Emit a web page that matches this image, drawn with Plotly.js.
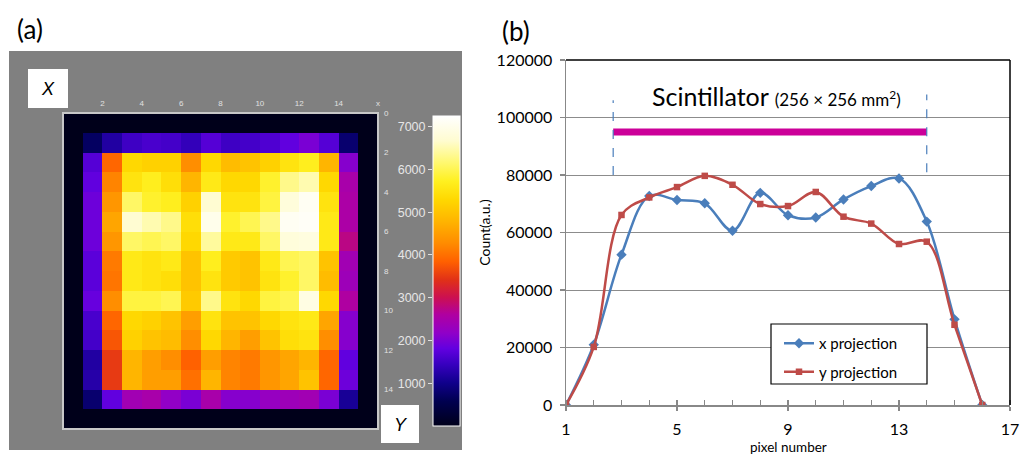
<!DOCTYPE html>
<html>
<head>
<meta charset="utf-8">
<script src="https://cdn.plot.ly/plotly-3.0.1.min.js"></script>
<style>html,body{margin:0;padding:0;background:#fff;}#chart{width:1021px;height:455px;}</style>
</head>
<body>
<div id="chart"></div>
<script>
// ---------- Panel (a): 16x16 pixel map ----------
const mapRows = [
  [0,0,0,0,0,0,0,0,0,0,0,0,0,0,0,0],
  [0,700,1200,1500,1600,1550,1400,1700,1500,1550,1650,1800,2000,1700,800,0],
  [0,1700,3900,5300,5200,5200,4300,5300,4900,5000,5200,5500,5700,4800,2100,0],
  [0,1800,4200,5500,5700,5400,4800,5600,5300,5300,5800,6300,6500,5300,2500,0],
  [0,1900,4400,6100,5800,5700,5200,6700,5500,5500,5900,6800,7100,5500,2550,0],
  [0,1900,4600,6700,6500,6300,5400,7000,5800,6000,6300,7100,7150,5600,2550,0],
  [0,1900,4400,6100,6000,6100,5300,6400,5600,5600,6100,6800,6850,5600,2750,0],
  [0,1750,4100,5600,5500,5600,5000,5700,5100,5000,5600,6000,6100,5000,2400,0],
  [0,1750,4050,5600,5500,5400,5000,5500,5100,5000,5500,5800,6100,4900,2350,0],
  [0,1850,4300,5900,5900,6000,5100,6300,5500,5300,5900,6000,6900,5300,2600,0],
  [0,1600,3900,5300,5200,5000,4500,5500,5000,5000,5300,5500,5600,4600,2100,0],
  [0,1550,3750,5200,5000,4900,4300,5300,4800,4500,5000,5400,5500,4300,2100,0],
  [0,1200,3500,4800,4500,4300,3850,4500,4200,4100,4400,4600,4800,3900,1800,0],
  [0,1250,3500,4800,4500,4500,4000,4800,4200,4100,4400,4600,5000,3900,1900,0],
  [0,800,1800,2400,2500,2200,2000,2500,2100,2100,2250,2350,2400,2000,1100,0],
  [0,0,0,0,0,0,0,0,0,0,0,0,0,0,0,0]
];
const mapXTickVals = [2,4,6,8,10,12,14,16];
const mapXTickText = ['2','4','6','8','10','12','14','x'];
const mapYTickVals = [0,2,4,6,8,10,12,14];
const cbarTickVals = [1000,2000,3000,4000,5000,6000,7000];
const zMax = 7250;
const fireScale = [
  [0,'#00001a'],[0.08,'#000050'],[0.14,'#10008c'],[0.2,'#3800c0'],
  [0.25,'#6200e0'],[0.3,'#9000c8'],[0.36,'#b000a0'],[0.415,'#cc1050'],
  [0.47,'#e03018'],[0.53,'#ff6000'],[0.59,'#ff8c00'],[0.66,'#ffb400'],
  [0.73,'#ffd800'],[0.79,'#fff020'],[0.85,'#fff870'],[0.92,'#fffcd0'],[1,'#ffffff']
];

// ---------- Panel (b): projections ----------
const pixelNumber = [1,2,3,4,5,6,7,8,9,10,11,12,13,14,15,16];
const xProjection = [0,21000,52300,72700,71300,70150,60600,73800,66000,65200,71500,76150,78800,63800,29800,0];
const yProjection = [0,20200,66100,72200,75800,79700,76600,69900,69200,74100,65500,63100,56000,56800,27900,0];
const scintEdges = [2.7,14];
const scintLevel = 95000;
const edgeLineLow = [80000,81000];
const edgeLineHigh = [106000,108000];
const xTickVals = [1,5,9,13,17];

const W = 1021, H = 455;
const px = v => v / W;
const py = v => 1 - v / H;

const font = 'Lato, "Open Sans", sans-serif';
const armFont = '"Liberation Sans", Arial, sans-serif';

const traces = [
  {
    type: 'heatmap', z: mapRows, x0: 0.5, dx: 1, y0: 0.5, dy: 1,
    xaxis: 'x', yaxis: 'y', zmin: 0, zmax: zMax, colorscale: fireScale,
    hoverinfo: 'skip',
    colorbar: {
      x: px(433), xanchor: 'left', y: py(271), yanchor: 'middle',
      thickness: 27, thicknessmode: 'pixels', len: 310, lenmode: 'pixels',
      xpad: 0, ypad: 0, outlinewidth: 1, outlinecolor: '#ffffff',
      showticklabels: false, ticks: '', borderwidth: 0
    }
  },
  { type: 'scatter', x: [null], y: [null], xaxis: 'x3', yaxis: 'y3', showlegend: false, hoverinfo: 'skip' },
  {
    type: 'scatter', mode: 'lines', x: scintEdges, y: [scintLevel, scintLevel],
    xaxis: 'x2', yaxis: 'y2', showlegend: false, hoverinfo: 'skip',
    line: { color: '#CC0099', width: 7 }
  },
  {
    type: 'scatter', mode: 'lines',
    x: [scintEdges[0], scintEdges[0], null, scintEdges[1], scintEdges[1]],
    y: [edgeLineLow[0], edgeLineHigh[0], null, edgeLineLow[1], edgeLineHigh[1]],
    xaxis: 'x2', yaxis: 'y2', showlegend: false, hoverinfo: 'skip',
    line: { color: '#4A7EBB', width: 1.2, dash: 'dash' }
  },
  {
    type: 'scatter', mode: 'lines+markers', name: 'x projection',
    x: pixelNumber, y: xProjection, xaxis: 'x2', yaxis: 'y2', legendgroup: 'a',
    line: { color: '#4A7EBB', width: 2.5, shape: 'spline', smoothing: 1 },
    marker: { symbol: 'diamond', size: 8, color: '#4A7EBB' }
  },
  {
    type: 'scatter', mode: 'lines+markers', name: 'y projection',
    x: pixelNumber, y: yProjection, xaxis: 'x2', yaxis: 'y2', legendgroup: 'b',
    line: { color: '#BE4B48', width: 2.5, shape: 'spline', smoothing: 1 },
    marker: { symbol: 'square', size: 6.5, color: '#BE4B48' }
  }
];

const ann = (text, x, y, size, family) => ({
  text, xref: 'paper', yref: 'paper', x: px(x), y: py(y),
  xanchor: 'center', yanchor: 'middle', showarrow: false,
  font: { family, size, color: '#000' }
});

const layout = {
  width: W, height: H, margin: { l: 0, r: 0, t: 0, b: 0 },
  paper_bgcolor: '#ffffff', plot_bgcolor: 'rgba(0,0,0,0)',
  font: { family: font, color: '#000' },
  showlegend: true,
  legend: {
    x: px(779), y: py(327), xanchor: 'left', yanchor: 'top',
    bgcolor: 'rgba(0,0,0,0)', borderwidth: 0,
    font: { family: font, size: 15, color: '#000' },
    traceorder: 'grouped', tracegroupgap: 6
  },
  xaxis: {
    domain: [px(63), px(378)], anchor: 'y', range: [0, 16], side: 'top',
    tickvals: mapXTickVals, ticktext: mapXTickText, ticks: '',
    tickfont: { family: armFont, size: 8, color: '#e0e0e0' },
    ticklabelstandoff: 4,
    showgrid: false, zeroline: false, showline: false, fixedrange: true
  },
  yaxis: {
    domain: [py(429), py(113)], anchor: 'x', range: [16, 0], side: 'right',
    tickvals: mapYTickVals, ticks: '',
    tickfont: { family: armFont, size: 8, color: '#e0e0e0' },
    ticklabelstandoff: 5,
    showgrid: false, zeroline: false, showline: false, fixedrange: true
  },
  xaxis3: { domain: [px(433), px(460)], anchor: 'y3', visible: false, range: [0, 1] },
  yaxis3: {
    domain: [py(426), py(116)], anchor: 'x3', range: [0, zMax], side: 'left',
    tickvals: cbarTickVals, ticks: 'outside', ticklen: 4, tickcolor: '#e0e0e0',
    tickfont: { family: armFont, size: 12.5, color: '#e6e6e6' },
    showgrid: false, zeroline: false, showline: false
  },
  xaxis2: {
    domain: [px(566), px(1010)], anchor: 'y2', range: [1, 17],
    tickvals: xTickVals, ticks: 'outside', ticklen: 4, tickcolor: '#888', tickwidth: 1.3,
    minor: { dtick: 1, tick0: 1, ticks: 'inside', ticklen: 5, tickcolor: '#888', tickwidth: 1.3, showgrid: false },
    showline: true, linecolor: '#888', linewidth: 1.5,
    showgrid: false, zeroline: false,
    tickfont: { family: font, size: 16, color: '#000' },
    ticklabelstandoff: 5
  },
  yaxis2: {
    domain: [py(405), py(60)], anchor: 'x2', range: [0, 120000], dtick: 20000,
    tickformat: 'd', ticks: 'outside', ticklen: 5, tickcolor: '#888', tickwidth: 1.3,
    showline: true, linecolor: '#888', linewidth: 1.5,
    showgrid: true, gridcolor: '#8c8c8c', gridwidth: 1, zeroline: false,
    tickfont: { family: font, size: 16, color: '#000' },
    ticklabelstandoff: 4,
    title: { text: 'Count(a.u.)', font: { family: font, size: 14, color: '#000' }, standoff: 2 }
  },
  shapes: [
    { type: 'rect', xref: 'paper', yref: 'paper', x0: px(9), x1: px(462), y0: py(450), y1: py(51),
      fillcolor: '#808080', line: { width: 0 }, layer: 'below' },
    { type: 'rect', xref: 'x domain', yref: 'y domain', x0: 0, x1: 1, y0: 0, y1: 1,
      line: { color: '#c8c8c8', width: 2 }, layer: 'above' },
    { type: 'rect', xref: 'paper', yref: 'paper', x0: px(28), x1: px(68), y0: py(108), y1: py(69),
      fillcolor: '#ffffff', line: { width: 0 }, layer: 'above' },
    { type: 'rect', xref: 'paper', yref: 'paper', x0: px(381), x1: px(419), y0: py(443), y1: py(405),
      fillcolor: '#ffffff', line: { width: 0 }, layer: 'above' },
    { type: 'line', xref: 'x2 domain', yref: 'y2 domain', x0: 0, x1: 1, y0: 1, y1: 1,
      line: { color: '#000', width: 1.5 }, layer: 'above' },
    { type: 'line', xref: 'x2 domain', yref: 'y2 domain', x0: 1, x1: 1, y0: 0, y1: 1,
      line: { color: '#000', width: 1.5 }, layer: 'above' },
    { type: 'rect', xref: 'paper', yref: 'paper', x0: px(771), x1: px(927), y0: py(384), y1: py(324),
      fillcolor: '#ffffff', line: { color: '#000', width: 1.2 }, layer: 'above' }
  ],
  annotations: [
    ann('(a)', 30, 29, 26, font),
    ann('(b)', 516, 31, 26, font),
    ann('<i>X</i>', 48, 89, 18, armFont),
    ann('<i>Y</i>', 401, 425, 18, armFont),
    ann('pixel number', 788, 446.5, 13.5, font),
    { text: "Scintillator <span style='font-size:17px'>(256 × 256 mm<sup>2</sup>)</span>",
      xref: 'x2', yref: 'y2', x: 8.57, y: 107500, xanchor: 'center', yanchor: 'middle', showarrow: false,
      font: { family: font, size: 25, color: '#000' } }
  ]
};

Plotly.newPlot('chart', traces, layout, { staticPlot: true, displayModeBar: false });
</script>
</body>
</html>
